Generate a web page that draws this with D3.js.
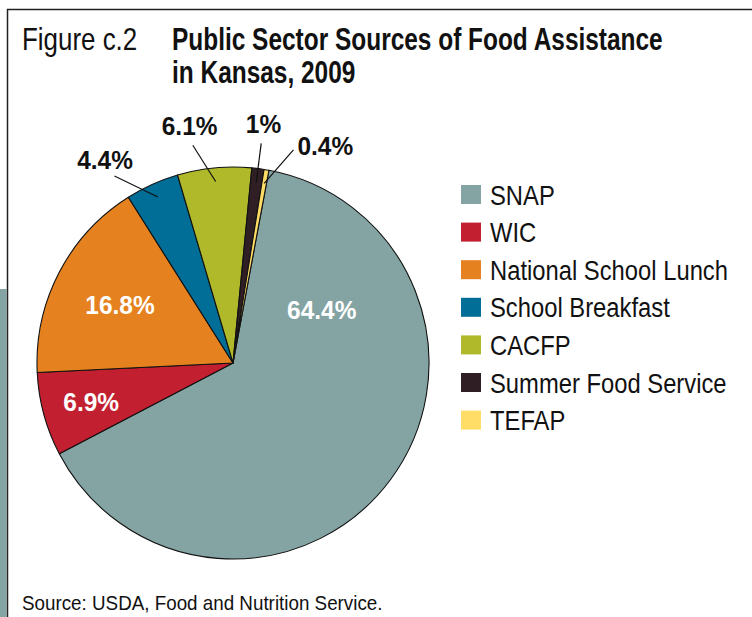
<!DOCTYPE html>
<html>
<head>
<meta charset="utf-8">
<script src="https://d3js.org/d3.v7.min.js"></script>
<style>
  body { margin: 0; background: #fff; }
  svg { display: block; font-family: "Liberation Sans", Arial, sans-serif; }
</style>
</head>
<body>
<svg width="752" height="617"></svg>
<script>
// Data
var categories = ["SNAP", "WIC", "National School Lunch", "School Breakfast", "CACFP", "Summer Food Service", "TEFAP"];
var shares = [64.4, 6.9, 16.8, 4.4, 6.1, 1, 0.4];
var shareLabels = ["64.4%", "6.9%", "16.8%", "4.4%", "6.1%", "1%", "0.4%"];
var colors = ["#84a3a3", "#c21f30", "#e5821f", "#006e96", "#b0b92a", "#2f1f24", "#ffdd66"];

// label placement: inside slice (radius fraction) or outside with a leader line
var inside = [true, true, true, false, false, false, false];
var insideR = [0.53, 0.75, 0.65, 0, 0, 0, 0];
var nudge = [-67.8, 0, 0, -8, -5, 0, 6];   // degrees

var svg = d3.select("svg"),
    width = +svg.attr("width"),
    height = +svg.attr("height");

// condensed text: no narrow face installed, so squeeze horizontally
function ctext(parent, x, y, str, size, k) {
  return parent.append("text")
    .attr("transform", "translate(" + x + "," + y + ") scale(" + k + ",1)")
    .attr("font-size", size)
    .attr("fill", "#111")
    .text(str);
}

// frame
svg.append("rect").attr("x", 0).attr("y", 289).attr("width", 6.5).attr("height", height - 289).attr("fill", "#84a3a3");
svg.append("line").attr("x1", 7.5).attr("x2", 7.5).attr("y1", 9).attr("y2", height).attr("stroke", "#222").attr("stroke-width", 1.5);
svg.append("line").attr("x1", 7).attr("x2", width).attr("y1", 9.5).attr("y2", 9.5).attr("stroke", "#222").attr("stroke-width", 1.5);

// title
ctext(svg, 22, 50, "Figure c.2", 32, 0.81);
ctext(svg, 172, 50, "Public Sector Sources of Food Assistance", 31.5, 0.776).attr("font-weight", "bold");
ctext(svg, 172, 83, "in Kansas, 2009", 31.5, 0.776).attr("font-weight", "bold");

// pie
var cx = 233, cy = 363, R = 196;
var start = 10.56 * Math.PI / 180;
var pie = d3.pie().sort(null).startAngle(start).endAngle(start + 2 * Math.PI);
var arcs = pie(shares);
var arc = d3.arc().innerRadius(0).outerRadius(R);

var g = svg.append("g").attr("transform", "translate(" + cx + "," + cy + ")");
g.selectAll("path.slice")
  .data(arcs)
  .enter().append("path")
    .attr("class", "slice")
    .attr("d", arc)
    .attr("fill", function(d, i) { return colors[i]; })
    .attr("stroke", "#111")
    .attr("stroke-width", 1.1)
    .attr("stroke-linejoin", "round");

function polar(a, r) { return [Math.sin(a) * r, -Math.cos(a) * r]; }

arcs.forEach(function(d, i) {
  var mid = (d.startAngle + d.endAngle) / 2;
  var a2 = mid + nudge[i] * Math.PI / 180;
  if (inside[i]) {
    var p = polar(a2, R * insideR[i]);
    ctext(g, p[0], p[1] + 9.5, shareLabels[i], 26, 0.94)
      .attr("text-anchor", "middle").attr("font-weight", "bold").attr("fill", "#fff");
  } else {
    var p1 = polar(mid, R * 0.93), p2 = polar(a2, R * 1.13);
    g.append("line").attr("x1", p1[0]).attr("y1", p1[1]).attr("x2", p2[0]).attr("y2", p2[1])
      .attr("stroke", "#111").attr("stroke-width", 1.2);
    var right = i == 6;
    var p3 = right ? [p2[0] + 4, p2[1] - 4] : polar(a2, R * 1.22);
    ctext(g, p3[0], p3[1] + (right ? 9.5 : 7.5), shareLabels[i], 26, 0.94)
      .attr("text-anchor", right ? "start" : "middle").attr("font-weight", "bold");
  }
});

// legend
var legend = svg.append("g").attr("transform", "translate(461,185)");
categories.forEach(function(c, i) {
  var y = i * 37.6;
  legend.append("rect").attr("y", y).attr("width", 20).attr("height", 19).attr("fill", colors[i]);
  ctext(legend, 29, y + 19.5, c, 27.5, 0.865);
});

// source
ctext(svg, 22, 610, "Source: USDA, Food and Nutrition Service.", 21, 0.896);
</script>
</body>
</html>
